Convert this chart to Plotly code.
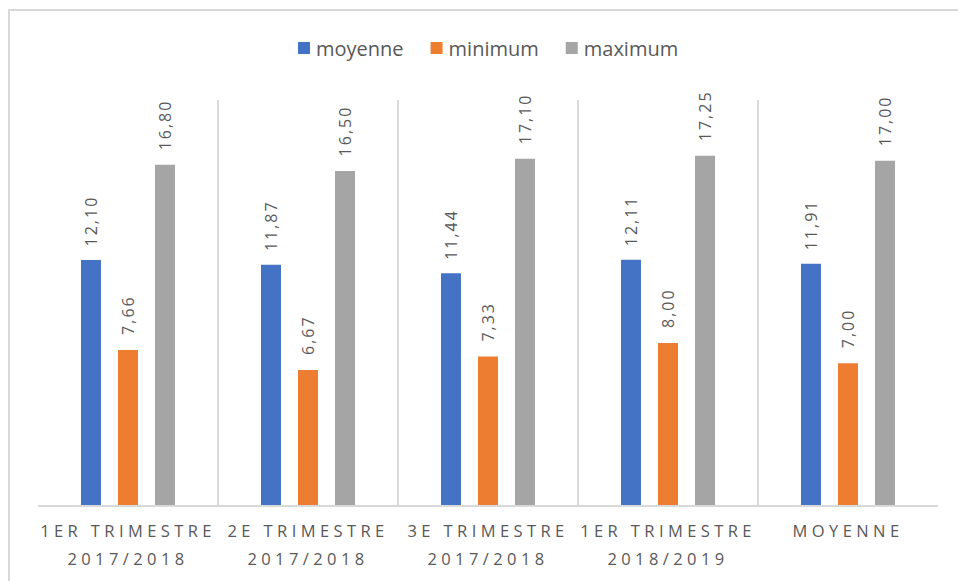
import plotly.graph_objects as go

categories = ["1ER TRIMESTRE<br>2017/2018", "2E TRIMESTRE<br>2017/2018", "3E TRIMESTRE<br>2017/2018",
              "1ER TRIMESTRE<br>2018/2019", "MOYENNE"]
moyenne = [12.10, 11.87, 11.44, 12.11, 11.91]
minimum = [7.66, 6.67, 7.33, 8.00, 7.00]
maximum = [16.80, 16.50, 17.10, 17.25, 17.00]
series_names = ["moyenne", "minimum", "maximum"]
series_values = [moyenne, minimum, maximum]
colors = ["#4472C4", "#ED7D31", "#A5A5A5"]

W, H = 958, 581
ML, MR, MT, MB = 38, 20, 100, 76
plot_w = W - ML - MR
plot_h = H - MT - MB
bargap = 0.383
bargroupgap = 0.46
cat_px = plot_w / len(categories)
slot_px = cat_px * (1 - bargap) / len(series_names)
FONT = "Open Sans"

fig = go.Figure()
for name, vals, col in zip(series_names, series_values, colors):
    fig.add_trace(go.Bar(name=name, x=categories, y=vals, marker=dict(color=col, line=dict(width=0)),
                         hoverinfo="skip"))

annotations = []
for i, (vals, col) in enumerate(zip(series_values, colors)):
    shift = (i - 1) * slot_px
    for c, v in zip(categories, vals):
        annotations.append(dict(
            x=c, y=v, xref="x", yref="y", text=f"{v:.2f}".replace(".", ","),
            showarrow=False, textangle=-90, yanchor="bottom", xanchor="center",
            xshift=shift, yshift=17,
            font=dict(family=FONT, size=16, color="#595959")))

def px_to_paper_x(px):
    return (px - ML) / plot_w

def px_to_paper_y(py):
    return (H - MB - py) / plot_h

fig.update_layout(
    width=W, height=H,
    margin=dict(l=ML, r=MR, t=MT, b=MB),
    paper_bgcolor="white", plot_bgcolor="white",
    barmode="group", bargap=bargap, bargroupgap=bargroupgap,
    font=dict(family=FONT, color="#595959"),
    showlegend=True,
    legend=dict(orientation="h", x=0.5, xanchor="center", y=px_to_paper_y(48), yanchor="middle",
                font=dict(family=FONT, size=20, color="#595959"), itemwidth=30,
                traceorder="normal"),
    xaxis=dict(type="category", tickson="boundaries", showgrid=True, gridcolor="#D9D9D9", gridwidth=1.5,
               showline=True, linecolor="#D9D9D9", linewidth=1.5, ticks="",
               tickfont=dict(family=FONT, size=16.5, color="#595959"), ticklabelstandoff=10,
               tickangle=0),
    yaxis=dict(range=[0, 20], showgrid=False, showticklabels=False, zeroline=False, showline=False),
    annotations=annotations,
    shapes=[dict(type="rect", xref="paper", yref="paper",
                 x0=px_to_paper_x(9), x1=px_to_paper_x(962), y0=px_to_paper_y(590), y1=px_to_paper_y(10),
                 line=dict(color="#D9D9D9", width=2), fillcolor="rgba(0,0,0,0)", layer="below")],
)

post = """
document.body.style.margin = '0';
var gd = document.getElementById('{plot_id}');
function sp(){
  gd.querySelectorAll('.xtick text').forEach(function(t){
    t.style.letterSpacing='4.4px';
    var lines = t.querySelectorAll('tspan.line');
    for (var k = 1; k < lines.length; k++) { lines[k].setAttribute('dy', '1.7em'); }
  });
  gd.querySelectorAll('.annotation-text').forEach(function(t){t.style.letterSpacing='2px';});
  gd.querySelectorAll('.legendtext').forEach(function(t){t.setAttribute('x', '32');});
}
sp();
gd.on('plotly_afterplot', sp);
"""

fig.write_html("out.html", post_script=post, config={"displayModeBar": False})
